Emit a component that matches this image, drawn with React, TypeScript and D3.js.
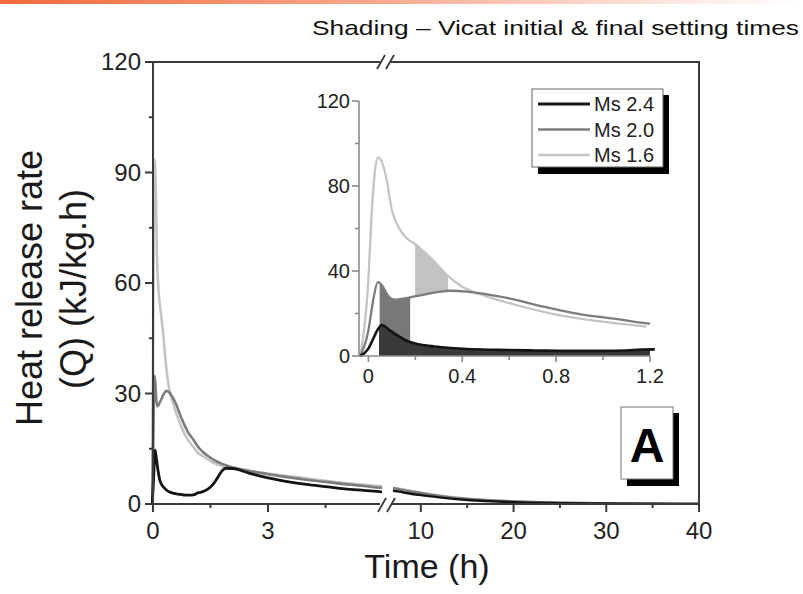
import React from "react";
import * as d3 from "d3";

type Pt = [number, number];

// ---- data (time in h, heat release rate in kJ/kg.h) ----
const seriesNames = ["Ms 2.4", "Ms 2.0", "Ms 1.6"];
const seriesColors = ["#141414", "#7c7c7c", "#c4c4c4"];

const ms24: Pt[] = [
  [-0.035, 0], [0, 3.5], [0.02, 8], [0.04, 12.5], [0.057, 14.6], [0.09, 12.2], [0.12, 9.9],
  [0.17, 6.8], [0.22, 5.4], [0.28, 4.5], [0.35, 3.8], [0.42, 3.3], [0.55, 2.9], [0.71, 2.6],
  [0.85, 2.4], [1.0, 2.4], [1.1, 2.6], [1.16, 3.0], [1.22, 3.1], [1.35, 3.6], [1.5, 4.6],
  [1.6, 5.8], [1.7, 7.4], [1.8, 9.0], [1.9, 9.7], [2.1, 9.6], [2.5, 8.4], [3, 7.1], [3.5, 6.1],
  [4, 5.3], [4.5, 4.7], [5, 4.1], [5.5, 3.7], [6, 3.3],
  [7, 3.6], [8, 3.2], [10, 2.4], [12, 1.8], [15, 1.1], [20, 0.5], [25, 0.25], [30, 0.12],
  [35, 0.06], [40, 0.03],
];

const ms20: Pt[] = [
  [-0.035, 0], [0, 12], [0.02, 26], [0.04, 34.8], [0.06, 33], [0.08, 29], [0.113, 26.5],
  [0.16, 27.2], [0.21, 28.3], [0.3, 30.2], [0.35, 30.7], [0.42, 30.3], [0.48, 29.5],
  [0.55, 28.2], [0.63, 26.4], [0.7, 24.4], [0.78, 22.4], [0.85, 20.8], [0.92, 19.4],
  [1.0, 18.2], [1.06, 17.4], [1.13, 16.2], [1.2, 15.2], [1.4, 13.3], [1.6, 11.9], [1.8, 10.9],
  [2.0, 10.2], [2.5, 9.0], [3, 8.1], [3.5, 7.3], [4, 6.6], [4.5, 6.0], [5, 5.4], [5.5, 4.9],
  [6, 4.4],
  [7, 4.3], [8, 3.8], [10, 3.0], [12, 2.2], [15, 1.4], [20, 0.7], [25, 0.35], [30, 0.18],
  [35, 0.1], [40, 0.05],
];

const ms16: Pt[] = [
  [-0.035, 0], [0, 36], [0.014, 67], [0.028, 87], [0.041, 93.5], [0.055, 92], [0.078, 82.8],
  [0.1, 68.7], [0.12, 62.6], [0.15, 57], [0.206, 52], [0.276, 45], [0.33, 38.6], [0.4, 32.6],
  [0.5, 28.2], [0.63, 24], [0.77, 20.2], [0.915, 17.4], [1.057, 15.4], [1.185, 13.8],
  [1.3, 13.0], [1.54, 11.4], [1.83, 10.2], [2.1, 9.6], [2.5, 8.9], [3, 8.3], [3.5, 7.6],
  [4, 7.0], [4.5, 6.3], [5, 5.7], [5.5, 5.2], [6, 4.8],
  [7, 4.5], [8, 4.0], [10, 3.1], [12, 2.3], [15, 1.5], [20, 0.75], [25, 0.4], [30, 0.2],
  [35, 0.1], [40, 0.05],
];

const seriesData = [ms24, ms20, ms16];

// main axes ticks
const yTicksMain = [0, 30, 60, 90, 120];
const yMinorMain = [15, 45, 75, 105];
const xTicksSeg1 = [0, 3];
const xMinorSeg1 = [1.5, 4.5];
const xTicksSeg2 = [10, 20, 30, 40];
const xMinorSeg2 = [15, 25, 35];

// inset ticks
const insetYTicks = [0, 40, 80, 120];
const insetYMinor = [20, 60, 100];
const insetXTicks = [0, 0.4, 0.8, 1.2];
const insetXMinor = [0.2, 0.6, 1.0];

// Vicat setting-time shading spans (h)
const shadeDark = [0.045, 1.2];
const shadeMedium = [0.048, 0.178];
const shadeLight = [0.199, 0.34];

const titleText = "Shading \u2013 Vicat initial & final setting times";
const yLabel1 = "Heat release rate";
const yLabel2 = "(Q) (kJ/kg.h)";
const xLabel = "Time (h)";
const panelLetter = "A";

export default function App() {
  const W = 803, H = 594;
  const font = "'Liberation Sans', Arial, Helvetica, sans-serif";
  const axisColor = "#3a3a3a";
  const left = 153, right = 699, top = 62, bottom = 504;
  const brk1 = 383, brk2 = 393;

  const y = d3.scaleLinear().domain([0, 120]).range([bottom, top]);
  const x1 = d3.scaleLinear().domain([0, 6]).range([left, brk1]);
  const x2 = d3.scaleLinear().domain([7, 40]).range([brk2, right]);

  const iy = d3.scaleLinear().domain([0, 120]).range([356, 101]);
  const ix = d3.scaleLinear().domain([-0.04, 1.2]).range([359, 650]);

  const line1 = d3.line<Pt>().x((d) => x1(d[0])).y((d) => y(d[1])).curve(d3.curveMonotoneX);
  const line2 = d3.line<Pt>().x((d) => x2(d[0])).y((d) => y(d[1])).curve(d3.curveMonotoneX);
  const iline = d3.line<Pt>().x((d) => ix(d[0])).y((d) => iy(d[1])).curve(d3.curveMonotoneX);
  const iarea = d3
    .area<Pt>()
    .x((d) => ix(d[0]))
    .y0(iy(0))
    .y1((d) => iy(d[1]))
    .curve(d3.curveMonotoneX);

  const insetData = seriesData.map((s) => s.filter((d) => d[0] <= 1.25));
  const drawOrder = [2, 1, 0];

  // region between an upper and a lower curve (closed path)
  const between = (upper: Pt[], lower: Pt[]) => {
    const a = iline(upper) || "";
    const b = (iline(lower.slice().reverse()) || "").replace(/^M/, "L");
    return a + b + "Z";
  };

  const slash = (cx: number, cy: number, key: string) => (
    <line key={key} x1={cx - 4} y1={cy + 7} x2={cx + 4} y2={cy - 7} stroke={axisColor} strokeWidth={1.8} />
  );

  return (
    <svg
      width={W}
      height={H}
      viewBox={`0 0 ${W} ${H}`}
      style={{ position: "fixed", left: 0, top: 0, background: "#fff" }}
      fontFamily={font}
    >
      <defs>
        <linearGradient id="topbar" x1="0" x2="1" y1="0" y2="0">
          <stop offset="0" stopColor="#f26a3c" />
          <stop offset="0.45" stopColor="#f7a58a" />
          <stop offset="0.85" stopColor="#fde9e2" />
          <stop offset="1" stopColor="#ffffff" />
        </linearGradient>
        <clipPath id="seg1">
          <rect x={151} y={top - 5} width={brk1 - 1 - 151} height={bottom - top + 5} />
        </clipPath>
        <clipPath id="seg2">
          <rect x={brk2} y={top} width={right - brk2} height={bottom - top} />
        </clipPath>
        <clipPath id="cDark">
          <rect x={ix(shadeDark[0])} y={95} width={ix(shadeDark[1]) - ix(shadeDark[0])} height={262} />
        </clipPath>
        <clipPath id="cMed">
          <rect x={ix(shadeMedium[0])} y={95} width={ix(shadeMedium[1]) - ix(shadeMedium[0])} height={262} />
        </clipPath>
        <clipPath id="cLight">
          <rect x={ix(shadeLight[0])} y={95} width={ix(shadeLight[1]) - ix(shadeLight[0])} height={262} />
        </clipPath>
      </defs>

      <rect x={0} y={0} width={W} height={H} fill="#fff" />
      <rect x={0} y={0} width={W} height={4} fill="url(#topbar)" />

      {/* title */}
      <text x={312} y={35} fontSize={21} fill="#111" textLength={487} lengthAdjust="spacingAndGlyphs">
        {titleText}
      </text>

      {/* main curves, segment 1 */}
      <g clipPath="url(#seg1)">
        {drawOrder.map((i) => (
          <path
            key={"s1" + i}
            d={line1(seriesData[i].filter((d) => d[0] <= 7)) || ""}
            fill="none"
            stroke={seriesColors[i]}
            strokeWidth={i === 0 ? 2.8 : 2.6}
          />
        ))}
      </g>
      <g clipPath="url(#seg2)">
        {drawOrder.map((i) => (
          <path
            key={"s2" + i}
            d={line2(seriesData[i].filter((d) => d[0] >= 6)) || ""}
            fill="none"
            stroke={seriesColors[i]}
            strokeWidth={2.4}
          />
        ))}
      </g>

      {/* main frame */}
      <g stroke={axisColor} strokeWidth={2} fill="none">
        <line x1={left} y1={top} x2={left} y2={bottom} />
        <line x1={right} y1={top} x2={right} y2={bottom + 1} />
        <line x1={left - 8} y1={top} x2={brk1 - 3} y2={top} />
        <line x1={brk2 - 2} y1={top} x2={right + 1} y2={top} />
        <line x1={left - 8} y1={bottom} x2={brk1 - 3} y2={bottom} />
        <line x1={brk2 - 2} y1={bottom} x2={right + 1} y2={bottom} />
      </g>
      {slash(brk1 - 2, top, "t1")}
      {slash(brk2 - 3, top, "t2")}
      {slash(brk1 - 1, bottom + 1, "b1")}
      {slash(brk2 - 2, bottom + 1, "b2")}

      {/* y ticks */}
      {yTicksMain.map((t) => (
        <g key={"yt" + t}>
          <line x1={left - 8} x2={left} y1={y(t)} y2={y(t)} stroke={axisColor} strokeWidth={2} />
          <text x={141} y={y(t) + 8} fontSize={24} textAnchor="end" fill="#222">
            {t}
          </text>
        </g>
      ))}
      {yMinorMain.map((t) => (
        <line key={"ym" + t} x1={left - 4} x2={left} y1={y(t)} y2={y(t)} stroke={axisColor} strokeWidth={2} />
      ))}

      {/* x ticks */}
      {xTicksSeg1.map((t) => (
        <g key={"xa" + t}>
          <line x1={x1(t)} x2={x1(t)} y1={bottom} y2={bottom + 8} stroke={axisColor} strokeWidth={2} />
          <text x={x1(t)} y={539} fontSize={24} textAnchor="middle" fill="#222">
            {t}
          </text>
        </g>
      ))}
      {xMinorSeg1.map((t) => (
        <line key={"xam" + t} x1={x1(t)} x2={x1(t)} y1={bottom} y2={bottom + 4} stroke={axisColor} strokeWidth={2} />
      ))}
      {xTicksSeg2.map((t) => (
        <g key={"xb" + t}>
          <line x1={x2(t)} x2={x2(t)} y1={bottom} y2={bottom + 8} stroke={axisColor} strokeWidth={2} />
          <text x={x2(t)} y={539} fontSize={24} textAnchor="middle" fill="#222">
            {t}
          </text>
        </g>
      ))}
      {xMinorSeg2.map((t) => (
        <line key={"xbm" + t} x1={x2(t)} x2={x2(t)} y1={bottom} y2={bottom + 4} stroke={axisColor} strokeWidth={2} />
      ))}

      {/* axis titles */}
      <text x={427} y={578} fontSize={34} textAnchor="middle" fill="#1a1a1a">
        {xLabel}
      </text>
      <text transform="translate(42,288) rotate(-90)" fontSize={36} textAnchor="middle" fill="#1a1a1a">
        {yLabel1}
      </text>
      <text transform="translate(86,289) rotate(-90)" fontSize={36} textAnchor="middle" fill="#1a1a1a">
        {yLabel2}
      </text>

      {/* ---------- inset ---------- */}
      <path d={between(insetData[2], insetData[1])} fill="#c2c2c2" clipPath="url(#cLight)" />
      <path d={between(insetData[1], insetData[0])} fill="#787878" clipPath="url(#cMed)" />
      <path d={iarea(insetData[0]) || ""} fill="#3a3a3a" clipPath="url(#cDark)" />
      {drawOrder.map((i) => (
        <path
          key={"in" + i}
          d={iline(insetData[i]) || ""}
          fill="none"
          stroke={seriesColors[i]}
          strokeWidth={i === 0 ? 2.6 : 2.3}
        />
      ))}

      <g stroke="#8a8a8a" strokeWidth={1.6}>
        <line x1={ix(-0.04)} y1={iy(120)} x2={ix(-0.04)} y2={iy(0)} />
        <line x1={ix(-0.04)} y1={iy(0)} x2={ix(1.2)} y2={iy(0)} />
        {insetYTicks.map((t) => (
          <line key={"iyt" + t} x1={ix(-0.04) - 7} x2={ix(-0.04)} y1={iy(t)} y2={iy(t)} />
        ))}
        {insetYMinor.map((t) => (
          <line key={"iym" + t} x1={ix(-0.04) - 4} x2={ix(-0.04)} y1={iy(t)} y2={iy(t)} />
        ))}
        {insetXTicks.map((t) => (
          <line key={"ixt" + t} x1={ix(t)} x2={ix(t)} y1={iy(0)} y2={iy(0) + 6} />
        ))}
        {insetXMinor.map((t) => (
          <line key={"ixm" + t} x1={ix(t)} x2={ix(t)} y1={iy(0)} y2={iy(0) + 4} />
        ))}
      </g>
      {insetYTicks.map((t) => (
        <text key={"iytl" + t} x={350} y={iy(t) + 7} fontSize={20} textAnchor="end" fill="#222">
          {t}
        </text>
      ))}
      {insetXTicks.map((t) => (
        <text key={"ixtl" + t} x={ix(t)} y={383} fontSize={20} textAnchor="middle" fill="#222">
          {t}
        </text>
      ))}

      {/* legend */}
      <rect x={538} y={95} width={131} height={79} fill="#000" />
      <rect x={532} y={89} width={131} height={78} fill="#fff" stroke="#666" strokeWidth={1} />
      {seriesNames.map((n, i) => {
        const ly = 104 + i * 25.5;
        return (
          <g key={"lg" + n}>
            <line x1={538} x2={590} y1={ly} y2={ly} stroke={seriesColors[i]} strokeWidth={i === 0 ? 3.2 : 2.6} />
            <text x={594} y={ly + 7} fontSize={20} fill="#222">
              {n}
            </text>
          </g>
        );
      })}

      {/* panel letter */}
      <rect x={627} y={413} width={52} height={73} fill="#000" />
      <rect x={621} y={407} width={52} height={72} fill="#fff" stroke="#777" strokeWidth={1} />
      <text x={647} y={462} fontSize={48} fontWeight="bold" textAnchor="middle" fill="#000">
        {panelLetter}
      </text>
    </svg>
  );
}
